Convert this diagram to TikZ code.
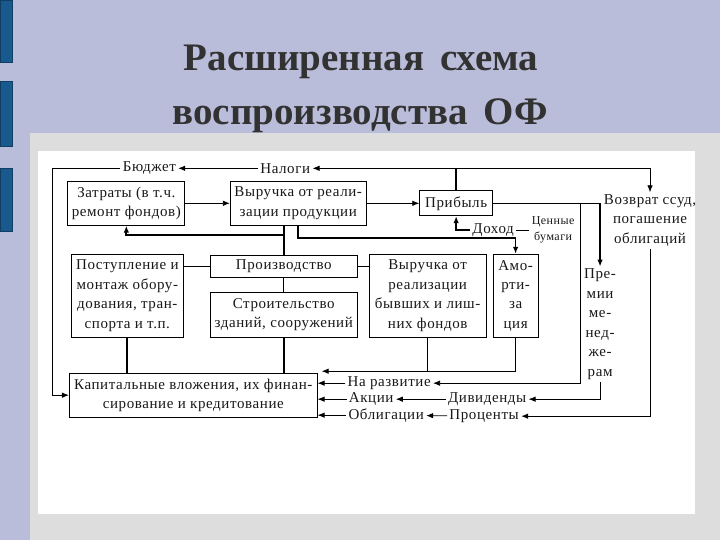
\documentclass[tikz,border=0pt]{standalone}
\usepackage{fontspec}
\setmainfont{Liberation Serif}
\newfontfamily\dfont[LetterSpace=4]{Liberation Serif}
\usetikzlibrary{calc,arrows.meta}
\usepackage{xcolor}
\definecolor{slidebg}{RGB}{186,189,218}
\definecolor{barblue}{RGB}{24,90,142}
\definecolor{panelgray}{RGB}{221,221,221}
\definecolor{titlegray}{RGB}{50,50,50}

\begin{document}
\begin{tikzpicture}[x=1pt,y=-1pt,>={Latex[length=7pt,width=5.5pt]},line width=0.8pt,
		box/.style={draw,align=center,inner sep=1pt},
		lbl/.style={align=center,inner sep=2pt},
		thk/.style={line width=1.7pt}]
		\tikzstyle{every node}=[font=\dfont\fontsize{15}{19.5}\selectfont, text=black!90]
		\fill[slidebg] (0,0) rectangle (720,540);
		\foreach \ya/\yb in {0/62, 81/146, 168/231}
			\filldraw[fill=barblue,draw=barblue!70!black] (0,\ya) rectangle (12,\yb);
		\fill[panelgray] (30,133) rectangle (720,540);
		\fill[white] (38,151) rectangle (695,514);
		\node[font=\bfseries\fontsize{39}{39}\selectfont, text=titlegray] (title1) at (361,62) {Расширенная\hspace{0.4em}схема};
		\node[font=\bfseries\fontsize{39}{39}\selectfont, text=titlegray] (title2) at (360,115) {воспроизводства\hspace{0.4em}ОФ};
		\node[box,minimum width=117,minimum height=44] (zatr) at (126,203) {Затраты (в т.ч.\\ремонт фондов)};
		\node[box,minimum width=136,minimum height=44] (vyr) at (298,203) {Выручка от реали-\\зации продукции};
		\node[box,minimum width=73,minimum height=25] (prib) at (456,203) {Прибыль};
		\node[lbl] (budg) at (149,168) {Бюджет};
		\node[lbl] (nalog) at (285,168) {Налоги};
		\node[lbl,anchor=north] (vozvr) at (650,192) {Возврат ссуд,\\погашение\\облигаций};
		\node[lbl] (dohod) at (493,230) {Доход};
		\node[lbl,font=\dfont\fontsize{12}{16}\selectfont] (cb) at (553,230) {Ценные\\бумаги};
		\node[box,minimum width=112,minimum height=83] (postup) at (127,295.5) {Поступление и\\монтаж обору-\\дования, тран-\\спорта и т.п.};
		\node[box,minimum width=147,minimum height=22] (proizv) at (283.5,266) {Производство};
		\node[box,minimum width=147,minimum height=45] (stroit) at (283.5,314.5) {Строительство\\зданий, сооружений};
		\node[box,minimum width=117,minimum height=83] (vyrb) at (427.5,295.5) {Выручка от\\реализации\\бывших и лиш-\\них фондов};
		\node[box,minimum width=45,minimum height=83] (amort) at (515.5,295.5) {Амо-\\рти-\\за\\ция};
		\node[lbl] (premii) at (600,324) {Пре-\\мии\\ме-\\нед-\\же-\\рам};
		\node[box,minimum width=248,minimum height=44] (kap) at (193,395) {Капитальные вложения, их финан-\\сирование и кредитование};
		\node[lbl] (razv) at (389,383) {На развитие};
		\node[lbl] (akcii) at (371,399) {Акции};
		\node[lbl] (oblig) at (386,415) {Облигации};
		\node[lbl] (divid) at (487,399) {Дивиденды};
		\node[lbl] (proc) at (484,416) {Проценты};
		\coordinate (lft) at (52,168);
		\coordinate (top) at (prib.north |- nalog);
		\coordinate (pr) at (prib.east -| premii.north);
		\coordinate (razvtop) at (580,203);
		\coordinate (vs1) at (proizv.north |- 0,235);
		\coordinate (amb) at (amort.south |- 0,371);
		\draw[->] (budg.west) -- (lft) |- (kap.west);
		\draw[->] (nalog) -- (budg);
		\draw[thk] (prib.north) -- (top);
		\draw[->] (top) -- (nalog);
		\draw[->] (top) -| (vozvr.north);
		\draw[->] (zatr) -- (vyr);
		\draw[->] (vyr) -- (prib);
		\draw (prib.east) -- (pr);
		\draw[->,thk] (pr) -- (premii.north);
		\draw[->] (razvtop) |- (razv.east);
		\draw[->,thk] (dohod.west) -| (prib.south);
		\draw (dohod.east) -- (cb.west);
		\draw[thk] (vyr.south -| proizv.north) -- (proizv.north);
		\draw[->,thk] (vs1) -| (zatr.south);
		\draw[->,thk] (vyr.south) |- (amort.north |- 0,238) -- (amort.north);
		\draw (postup.east |- proizv) -- (proizv.west);
		\draw (proizv.east) -- (vyrb.west |- proizv);
		\draw (proizv) -- (stroit);
		\draw[thk] (postup.south) -- (postup.south |- kap.north);
		\draw[thk] (stroit.south) -- (stroit.south |- kap.north);
		\draw (vyrb.south) -- (vyrb.south |- amb);
		\draw[->,shorten >=4pt] (amort.south) -- (amb) -- (kap.east |- amb);
		\draw[->] (razv) -- (kap.east |- razv);
		\draw[->] (akcii) -- (kap.east |- akcii);
		\draw[->] (oblig) -- (kap.east |- oblig);
		\draw[->] (divid) -- (akcii);
		\draw[->] (proc) -- (oblig);
		\draw[->] (premii.south) |- (divid.east);
		\draw[->] (vozvr.south) |- (proc.east);
\end{tikzpicture}
\end{document}
